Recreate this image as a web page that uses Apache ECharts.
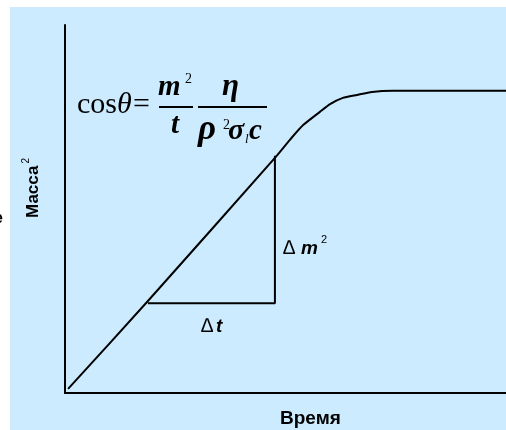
<!DOCTYPE html>
<html>
<head>
<meta charset="utf-8">
<script src="https://cdn.jsdelivr.net/npm/echarts@6/dist/echarts.min.js"></script>
<style>
  html, body { margin: 0; padding: 0; background: #fff; }
  #chart { width: 506px; height: 430px; }
</style>
</head>
<body>
<div id="chart"></div>
<script>
// кривая: время и масса^2 (условные единицы, 0..100)
var timeValues = [0.7, 18.8, 47.6, 51.0, 54.0, 57.8, 60.1, 63.0, 66.2, 69.6, 74.4, 100];
var massValues = [1.1, 25.0, 63.9, 68.8, 72.8, 76.4, 78.5, 80.2, 81.0, 81.8, 82.1, 82.1];
// треугольник наклона
var triTime = [18.8, 47.6, 47.6];
var triMass = [24.4, 24.4, 64.5];

var xLabel = 'Время';
var yLabel = 'Масса';

var chart = echarts.init(document.getElementById('chart'));

var serif = '"Liberation Serif", "DejaVu Serif", serif';
var sans = '"Liberation Sans", Arial, sans-serif';

// текст по левому краю и базовой линии
function glyph(txt, left, base, size, font, weight, fstyle) {
  return {
    type: 'text',
    x: left,
    y: base - size * 0.34,
    style: {
      text: txt,
      font: (fstyle || 'normal') + ' ' + (weight || 'normal') + ' ' + size + 'px ' + font,
      fill: '#000',
      textAlign: 'left',
      textVerticalAlign: 'middle'
    }
  };
}
function bar(x1, x2, y) {
  return {
    type: 'line',
    shape: { x1: x1, y1: y, x2: x2, y2: y },
    style: { stroke: '#000', lineWidth: 2 }
  };
}

chart.setOption({
  backgroundColor: '#fff',
  animation: false,
  grid: { left: 65, right: 0, top: 25, bottom: 37 },
  xAxis: {
    type: 'value', min: 0, max: 100,
    axisLine: { show: true, onZero: false, lineStyle: { color: '#000', width: 2 } },
    axisTick: { show: false }, axisLabel: { show: false }, splitLine: { show: false }
  },
  yAxis: {
    type: 'value', min: 0, max: 100,
    axisLine: { show: true, onZero: false, lineStyle: { color: '#000', width: 2 } },
    axisTick: { show: false }, axisLabel: { show: false }, splitLine: { show: false }
  },
  series: [{
    type: 'line',
    data: timeValues.map(function (t, i) { return [t, massValues[i]]; }),
    smooth: 0.2,
    symbol: 'none',
    lineStyle: { color: '#000', width: 2, join: 'round' }
  }, {
    type: 'line',
    data: triTime.map(function (t, i) { return [t, triMass[i]]; }),
    symbol: 'none',
    lineStyle: { color: '#000', width: 2 }
  }],
  graphic: [
    { type: 'rect', z: -10, shape: { x: 10, y: 7, width: 496, height: 423 }, style: { fill: '#ccebff' } },
    // обрезанная буква у левого края
    glyph('е', -6, 224, 16, sans, 'bold'),
    // подписи осей
    glyph(xLabel, 280, 425, 19, sans, 'bold'),
    {
      type: 'text', x: 33, y: 188, rotation: Math.PI / 2,
      style: {
        text: '{a|' + yLabel + '}{s|2}',
        rich: {
          a: { font: 'bold 17px ' + sans, fill: '#000' },
          s: { font: 'normal 10px ' + sans, fill: '#000', padding: [0, 0, 14, 2] }
        },
        textAlign: 'center', textVerticalAlign: 'middle'
      }
    },
    // формула
    glyph('cos', 77, 115, 30, serif),
    glyph('θ', 117, 115, 30, serif, 'normal', 'italic'),
    glyph('=', 133, 115, 30, serif),
    bar(159, 193, 107),
    glyph('m', 158, 97, 29, serif, 'bold', 'italic'),
    glyph('2', 185, 84, 14, serif),
    glyph('t', 171, 135, 29, serif, 'bold', 'italic'),
    bar(198, 267, 107),
    glyph('η', 222, 98, 31, serif, 'bold', 'italic'),
    glyph('ρ', 198, 142, 35, serif, 'bold', 'italic'),
    glyph('2', 223, 130, 14, serif),
    glyph('σ', 228, 141, 30, serif, 'bold', 'italic'),
    glyph('l', 245, 144, 13, serif, 'normal', 'italic'),
    glyph('c', 249, 141, 29, serif, 'bold', 'italic'),
    // приращения
    glyph('∆', 283, 255, 20, sans, 'normal', 'italic'),
    glyph('m', 301, 255, 19, sans, 'bold', 'italic'),
    glyph('2', 321, 244, 11, sans),
    glyph('∆', 201, 333, 20, sans, 'normal', 'italic'),
    glyph('t', 216, 333, 19, sans, 'bold', 'italic')
  ]
});
</script>
</body>
</html>
